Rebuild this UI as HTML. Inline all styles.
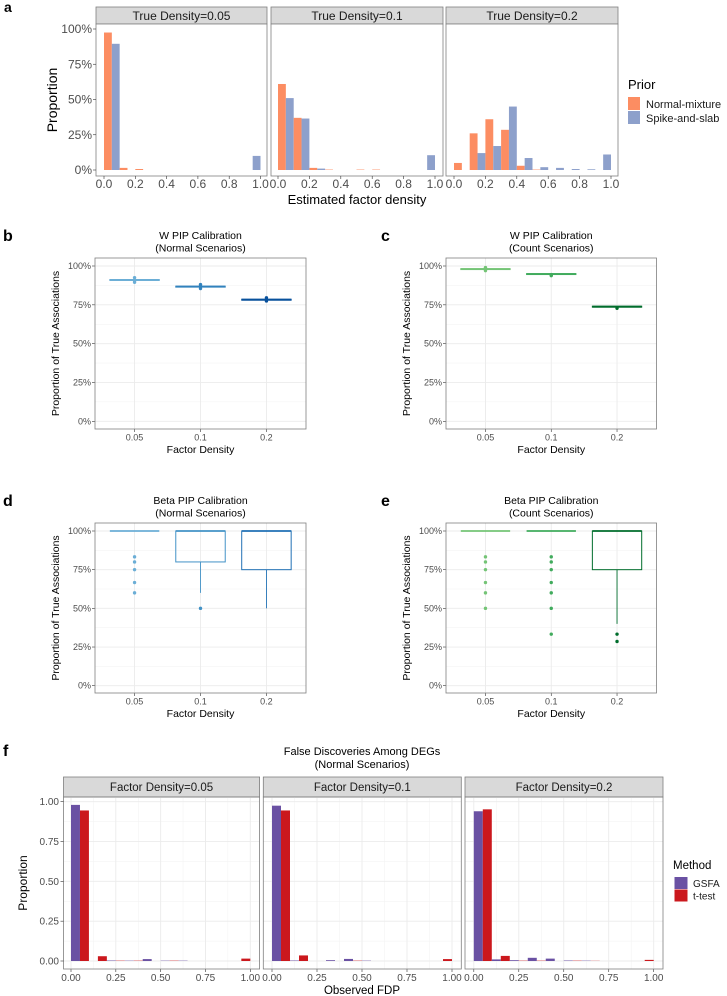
<!DOCTYPE html>
<html><head><meta charset="utf-8">
<style>
html,body{margin:0;padding:0;background:#fff;}
svg{display:block;font-family:"Liberation Sans",sans-serif;}
</style></head>
<body>
<svg id="fig" width="727" height="996" viewBox="0 0 727 996" xmlns="http://www.w3.org/2000/svg"></svg>
<script>
// ---------- Panel a data (10 bins of width 0.1) ----------
const aFacets = ["True Density=0.05","True Density=0.1","True Density=0.2"];
const aNormalMixture = [
  [97.5,1.5,0.7,0,0,0,0,0,0,0],
  [61,37,1.5,0.3,0,0.3,0.3,0,0,0],
  [5,26,36,28.5,3,0.3,0,0,0,0]
];
const aSpikeSlab = [
  [89.5,0,0,0,0,0,0,0,0,10],
  [51,36.5,1,0,0,0,0,0,0,10.5],
  [0,12,17,45,8.5,2,1.5,0.7,0.5,11]
];
const aXTicks = ["0.0","0.2","0.4","0.6","0.8","1.0"];
const aYTicks = ["0%","25%","50%","75%","100%"];
// ---------- Panels b/c data ----------
const densCats = ["0.05","0.1","0.2"];
const bMedian = [91,86.7,78.3];
const bPoints = [[89.5,90.5,92.5],[85.5,87,88],[77.5,78.5,79.5]];
const cMedian = [98,94.8,73.8];
const cPoints = [[97,98.5,99],[93.8,94.5],[72.8]];
const pctTicks = ["0%","25%","50%","75%","100%"];
// ---------- Panels d/e data ----------
const dQ1 = [100,80,75];
const dMed = [100,100,100];
const dQ3 = [100,100,100];
const dWhiskLow = [100,60,50];
const dOutliers = [[83.3,80,75,66.7,60],[50],[]];
const eQ1 = [100,100,75];
const eMed = [100,100,100];
const eQ3 = [100,100,100];
const eWhiskLow = [100,100,40];
const eOutliers = [[83.3,80,75,66.7,60,50],[83.3,80,75,66.7,60,50,33.3],[33.3,28.6]];
// ---------- Panel f data ----------
const fFacets = ["Factor Density=0.05","Factor Density=0.1","Factor Density=0.2"];
const fGSFA = [
  [0.98,0,0.003,0.002,0.012,0.002,0.002,0,0,0],
  [0.975,0.003,0,0.005,0.013,0.002,0,0,0,0],
  [0.94,0.01,0.005,0.02,0.015,0.003,0.002,0,0,0]
];
const fTtest = [
  [0.945,0.03,0.002,0.002,0,0.002,0,0,0,0.015],
  [0.945,0.035,0,0,0.002,0,0,0,0,0.012],
  [0.952,0.032,0.002,0.002,0,0.002,0.001,0,0,0.007]
];
const fXTicks = ["0.00","0.25","0.50","0.75","1.00"];
const fYTicks = ["0.00","0.25","0.50","0.75","1.00"];

const NS="http://www.w3.org/2000/svg";
const svg=document.getElementById('fig');
function mk(tag,parent){const e=document.createElementNS(NS,tag);(parent||svg).appendChild(e);return e;}
function line(x1,y1,x2,y2,stroke,w){const l=mk('line');l.setAttribute('x1',x1);l.setAttribute('y1',y1);l.setAttribute('x2',x2);l.setAttribute('y2',y2);l.setAttribute('stroke',stroke);l.setAttribute('stroke-width',w);return l;}
function rect(x,y,w,h,fill,stroke,sw){const r=mk('rect');r.setAttribute('x',x);r.setAttribute('y',y);r.setAttribute('width',Math.max(0,w));r.setAttribute('height',Math.max(0,h));r.setAttribute('fill',fill);if(stroke){r.setAttribute('stroke',stroke);r.setAttribute('stroke-width',sw);}return r;}
function text(s,x,y,size,fill,anchor,weight){const t=mk('text');t.textContent=s;t.setAttribute('x',x);t.setAttribute('y',y);t.setAttribute('font-size',size);t.setAttribute('fill',fill||'#000');t.setAttribute('text-anchor',anchor||'start');if(weight)t.setAttribute('font-weight',weight);return t;}
function vtext(s,x,y,size){const t=text(s,0,0,size,'#000','middle');t.setAttribute('transform','translate('+x+','+y+') rotate(-90)');return t;}

// ================= Panel a =================
let t;
t=text('a',4,12,14,'#000','start','bold');

const aPanels=[[96,267,104,260.5],[271,443,278,435],[446,618,454,611]];
const ayA=v=>170-v*1.41;
aPanels.forEach((p,fi)=>{
  const xs=v=>p[2]+v*(p[3]-p[2]);
  let s=rect(p[0],7,p[1]-p[0],17,'#d9d9d9','#7f7f7f',0.8);
  
  let st=text(aFacets[fi],(p[0]+p[1])/2,20,12,'#1a1a1a','middle');
  
  let pb=rect(p[0],24,p[1]-p[0],152,'#fff');
  
  for(let i=0;i<10;i++){
    let b1=rect(xs(i*0.1),ayA(aNormalMixture[fi][i]),xs(0.05)-xs(0),ayA(0)-ayA(aNormalMixture[fi][i]),'#fc8d62');
    
    let b2=rect(xs(i*0.1+0.05),ayA(aSpikeSlab[fi][i]),xs(0.05)-xs(0),ayA(0)-ayA(aSpikeSlab[fi][i]),'#8da0cb');
    
  }
  let bd=rect(p[0],24,p[1]-p[0],152,'none','#7f7f7f',0.8);
  
  aXTicks.forEach((lab,k)=>{const xv=xs(k*0.2);line(xv,176,xv,179,'#333',0.6);
    let tl=text(lab,xv,188,12,'#4d4d4d','middle');
    });
});
aYTicks.forEach((lab,k)=>{const yv=ayA(k*25);line(93,yv,96,yv,'#333',0.6);
  let tl=text(lab,92,yv+4,12,'#4d4d4d','end');
  });
t=vtext('Proportion',57,100,14);

t=text('Estimated factor density',357,204,13,'#000','middle');

t=text('Prior',628,89,13,'#000');

t=rect(628,97,12,13,'#fc8d62');

t=rect(628,111,12,13,'#8da0cb');

t=text('Normal-mixture',646,108,11,'#1a1a1a');

t=text('Spike-and-slab',646,122,11,'#1a1a1a');


// ================= Box panels =================
function boxPanel(cfg){
  const x0=cfg.x0,x1=cfg.x1,top=cfg.top,zero=cfg.zero,hund=cfg.hund,bot=cfg.bot;
  const ys=v=>zero-(zero-hund)*v/100;
  const unit=(x1-x0)/3.2;
  const xs=i=>x0+(0.6+i)*unit;
  let l=text(cfg.letter,cfg.lx,cfg.ly,16,'#000','start','bold');
  
  let t1=text(cfg.title1,(x0+x1)/2,cfg.ty,10.5,'#000','middle');
  
  let t2=text(cfg.title2,(x0+x1)/2,cfg.ty+12.5,10.5,'#000','middle');
  
  for(let k=0;k<4;k++){line(x0,ys(k*25+12.5),x1,ys(k*25+12.5),'#f2f2f2',0.5);}
  pctTicks.forEach((lab,k)=>{line(x0,ys(k*25),x1,ys(k*25),'#ebebeb',0.9);
    line(x0-3,ys(k*25),x0,ys(k*25),'#333',0.6);
    let tl=text(lab,x0-4,ys(k*25)+3,9,'#4d4d4d','end');
    });
  densCats.forEach((c,i)=>{line(xs(i),top,xs(i),bot,'#ebebeb',0.9);
    line(xs(i),bot,xs(i),bot+3,'#333',0.6);
    let tl=text(c,xs(i),bot+11.5,9,'#4d4d4d','middle');
    });
  const bw=unit*0.75;
  densCats.forEach((c,i)=>{
    const col=cfg.colors[i];
    (cfg.points[i]||[]).forEach(v=>{const ci=mk('circle');ci.setAttribute('cx',xs(i));ci.setAttribute('cy',ys(v));ci.setAttribute('r',1.7);ci.setAttribute('fill',col);
      
      });
    if(cfg.whisk[i]<cfg.q1[i]){let w=line(xs(i),ys(cfg.q1[i]),xs(i),ys(cfg.whisk[i]),col,0.9);
      }
    let b=rect(xs(i)-bw/2,ys(cfg.q3[i]),bw,ys(cfg.q1[i])-ys(cfg.q3[i]),'none',col,1);
    
    let m=line(xs(i)-bw/2,ys(cfg.med[i]),xs(i)+bw/2,ys(cfg.med[i]),col,1.8);
    
  });
  let bd=rect(x0,top,x1-x0,bot-top,'none','#7f7f7f',0.8);
  
  let yt=vtext('Proportion of True Associations',cfg.yx,(top+bot)/2,10.5);
  
  let xt=text('Factor Density',(x0+x1)/2,bot+24,10.5,'#000','middle');
  
}
boxPanel({letter:'b',lx:3,ly:241,x0:95,x1:306,top:258,zero:421.3,hund:266,bot:429,ty:239,yx:59,
  title1:'W PIP Calibration',title2:'(Normal Scenarios)',colors:['#6baed6','#3182bd','#08519c'],
  q1:bMedian.map(v=>v-0.3),q3:bMedian.map(v=>v+0.3),med:bMedian,whisk:bMedian.map(v=>v),points:bPoints});
boxPanel({letter:'c',lx:381,ly:241,x0:446,x1:656.5,top:258,zero:421.3,hund:266,bot:429,ty:239,yx:410,
  title1:'W PIP Calibration',title2:'(Count Scenarios)',colors:['#74c476','#41ab5d','#006d2c'],
  q1:cMedian.map(v=>v-0.3),q3:cMedian.map(v=>v+0.3),med:cMedian,whisk:cMedian.map(v=>v),points:cPoints});
boxPanel({letter:'d',lx:3,ly:506,x0:95,x1:306,top:523,zero:685.7,hund:531,bot:693,ty:504,yx:59,
  title1:'Beta PIP Calibration',title2:'(Normal Scenarios)',colors:['#6baed6','#4292c6','#2171b5'],
  q1:dQ1,q3:dQ3,med:dMed,whisk:dWhiskLow,points:dOutliers});
boxPanel({letter:'e',lx:381,ly:506,x0:446,x1:656.5,top:523,zero:685.7,hund:531,bot:693,ty:504,yx:410,
  title1:'Beta PIP Calibration',title2:'(Count Scenarios)',colors:['#74c476','#41ab5d','#006d2c'],
  q1:eQ1,q3:eQ3,med:eMed,whisk:eWhiskLow,points:eOutliers});

// ================= Panel f =================
t=text('f',3,756,16,'#000','start','bold');

t=text('False Discoveries Among DEGs',362,755,11,'#000','middle');

t=text('(Normal Scenarios)',362,768,11,'#000','middle');

const fPanels=[[63.5,259.6,71,250.3],[263.3,461.3,272,452],[465,663,473.8,653.7]];
const fy=v=>961-v*159.3;
fPanels.forEach((p,fi)=>{
  const xs=v=>p[2]+v*(p[3]-p[2]);
  let s=rect(p[0],777,p[1]-p[0],20,'#d9d9d9','#7f7f7f',0.8);
  
  let st=text(fFacets[fi],(p[0]+p[1])/2,791,11.5,'#1a1a1a','middle');
  
  for(let k=0;k<4;k++){line(xs(k*0.25+0.125),797,xs(k*0.25+0.125),969,'#f2f2f2',0.5);line(p[0],fy(k*0.25+0.125),p[1],fy(k*0.25+0.125),'#f2f2f2',0.5);}
  fXTicks.forEach((lab,k)=>{const xv=xs(k*0.25);line(xv,797,xv,969,'#ebebeb',0.9);line(xv,969,xv,972,'#333',0.6);
    let tl=text(lab,xv,981,10,'#4d4d4d','middle');
    });
  fYTicks.forEach((lab,k)=>{line(p[0],fy(k*0.25),p[1],fy(k*0.25),'#ebebeb',0.9);});
  for(let i=0;i<10;i++){
    let b1=rect(xs(i*0.1),fy(fGSFA[fi][i]),xs(0.05)-xs(0),fy(0)-fy(fGSFA[fi][i]),'#6a51a3');
    
    let b2=rect(xs(i*0.1+0.05),fy(fTtest[fi][i]),xs(0.05)-xs(0),fy(0)-fy(fTtest[fi][i]),'#cb181d');
    
  }
  let bd=rect(p[0],797,p[1]-p[0],172,'none','#7f7f7f',0.8);
  
});
fYTicks.forEach((lab,k)=>{const yv=fy(k*0.25);line(60.5,yv,63.5,yv,'#333',0.6);
  let tl=text(lab,59,yv+3.5,10,'#4d4d4d','end');
  });
t=vtext('Proportion',27,883,12);

t=text('Observed FDP',362,994,11.5,'#000','middle');

t=text('Method',673,869,11.5,'#000');

t=rect(674.5,877,13,12,'#6a51a3');

t=rect(674.5,889.5,13,12,'#cb181d');

t=text('GSFA',693,887,10,'#1a1a1a');

t=text('t-test',693,899.5,10,'#1a1a1a');

</script>
</body></html>
